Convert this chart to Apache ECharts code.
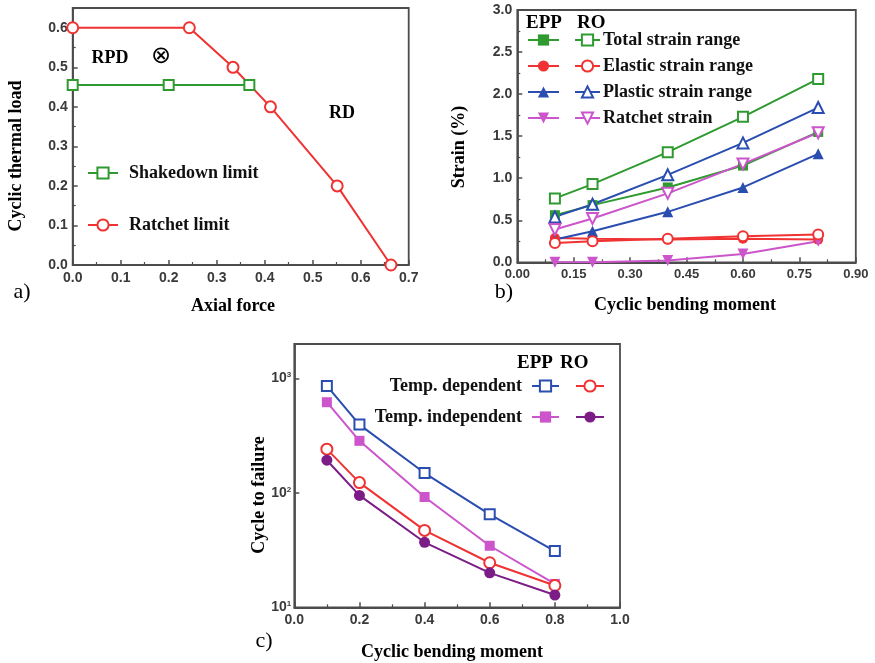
<!DOCTYPE html>
<html>
<head>
<meta charset="utf-8">
<script src="https://cdn.jsdelivr.net/npm/echarts@6/dist/echarts.min.js"></script>
<style>
  html, body { margin: 0; padding: 0; background: #fff; }
  #chart { width: 875px; height: 663px; }
</style>
</head>
<body>
<div id="chart"></div>
<script>
// ---- a) shakedown / ratchet limits ----
const axialRatchet = [0, 0.243, 0.334, 0.412, 0.551, 0.663];
const thermalRatchet = [0.6, 0.6, 0.5, 0.4, 0.2, 0.0];
const axialShakedown = [0, 0.2, 0.368];
const thermalShakedown = [0.455, 0.455, 0.455];

// ---- b) strain components vs cyclic bending moment ----
const momentB = [0.1, 0.2, 0.4, 0.6, 0.8];
const totalEPP = [0.56, 0.68, 0.89, 1.15, 1.55];
const totalRO = [0.76, 0.93, 1.31, 1.73, 2.18];
const elasticEPP = [0.29, 0.28, 0.27, 0.28, 0.27];
const elasticRO = [0.23, 0.25, 0.28, 0.31, 0.33];
const plasticEPP = [0.27, 0.37, 0.60, 0.89, 1.29];
const plasticRO = [0.54, 0.69, 1.04, 1.42, 1.84];
const ratchetEPP = [0.0, 0.0, 0.02, 0.10, 0.25];
const ratchetRO = [0.39, 0.52, 0.82, 1.17, 1.54];

// ---- c) cycles to failure ----
const momentC = [0.1, 0.2, 0.4, 0.6, 0.8];
const depEPP = [860, 395, 149, 65, 31];
const indepEPP = [620, 285, 92, 34.5, 16];
const depRO = [241, 123, 47, 24.5, 15.5];
const indepRO = [193, 95, 37, 20, 12.8];

const seriesNamesB = ['Total strain range', 'Elastic strain range', 'Plastic strain range', 'Ratchet strain'];
const limitNames = ['Shakedown limit', 'Ratchet limit'];
const tempNames = ['Temp. dependent', 'Temp. independent'];

const pairs = (xs, ys) => xs.map((x, i) => [x, ys[i]]);

const GREEN = '#2f9a2f', RED = '#f03232', BLUE = '#2a4db0', PINK = '#cc55cc', PURPLE = '#7c1c86';
const SERIF = '"Liberation Serif", "Times New Roman", serif';
const SANS = '"Liberation Sans", Arial, sans-serif';
const FRAME = '#4c4c4c';

function axisBase(extra) {
  return Object.assign({
    axisLine: { show: true, onZero: false, lineStyle: { color: FRAME, width: 1.8 } },
    axisTick: { show: true, inside: true, length: 5, lineStyle: { color: FRAME, width: 1.5 } },
    minorTick: { show: true, splitNumber: 2, length: 3, lineStyle: { color: FRAME, width: 1.2 } },
    splitLine: { show: false },
    axisLabel: { color: '#3a3a3a', fontFamily: SANS, fontWeight: 'bold', fontSize: 14, margin: 6, showMaxLabel: true }
  }, extra);
}

function line(name, data, color, symbol, opts) {
  const filled = !symbol.startsWith('empty');
  return Object.assign({
    type: 'line', name: name, data: data, symbol: symbol, symbolSize: 10,
    lineStyle: { color: color, width: 2 },
    itemStyle: { color: color, borderColor: color, borderWidth: filled ? 0 : 2 },
    emphasis: { disabled: true },
    animation: false
  }, opts);
}

const titleStyle = { fill: '#000', font: 'bold 18px ' + SERIF, textAlign: 'center', textVerticalAlign: 'middle' };
function label(text, x, y, style, rot) {
  return { type: 'text', x: x, y: y, rotation: rot || 0, style: Object.assign({ text: text }, titleStyle, style || {}) };
}

const legendText = { color: '#111', fontFamily: SERIF, fontWeight: 'bold', fontSize: 18 };
// marker-only legend columns keep a blank label so their rows share the text rows' height
const blankLabel = () => ' ';

const option = {
  backgroundColor: '#fff',
  animation: false,
  grid: [
    { left: 72.7, top: 8, width: 336, height: 257, show: true, borderColor: FRAME, borderWidth: 1.8 },
    { left: 517.3, top: 10, width: 338.5, height: 252.3, show: true, borderColor: FRAME, borderWidth: 1.8 },
    { left: 294.3, top: 344, width: 325.7, height: 263.3, show: true, borderColor: FRAME, borderWidth: 1.8 }
  ],
  xAxis: [
    axisBase({ gridIndex: 0, type: 'value', min: 0, max: 0.7, interval: 0.1,
      axisLabel: Object.assign(axisBase().axisLabel, { formatter: v => v.toFixed(1) }) }),
    axisBase({ gridIndex: 1, type: 'value', min: 0, max: 0.9, interval: 0.15,
      axisLabel: Object.assign(axisBase().axisLabel, { fontSize: 13, formatter: v => v.toFixed(2) }) }),
    axisBase({ gridIndex: 2, type: 'value', min: 0, max: 1.0, interval: 0.2,
      axisLabel: Object.assign(axisBase().axisLabel, { formatter: v => v.toFixed(1) }) })
  ],
  yAxis: [
    axisBase({ gridIndex: 0, type: 'value', min: 0, max: 0.65, interval: 0.1,
      axisLabel: Object.assign(axisBase().axisLabel, { showMaxLabel: false, margin: 5, formatter: v => v.toFixed(1) }) }),
    axisBase({ gridIndex: 1, type: 'value', min: 0, max: 3.0, interval: 0.5,
      axisLabel: Object.assign(axisBase().axisLabel, { margin: 5, formatter: v => v.toFixed(1) }) }),
    axisBase({ gridIndex: 2, type: 'log', logBase: 10, min: 10, max: 2000,
      minorTick: { show: false },
      axisLabel: Object.assign(axisBase().axisLabel, {
        showMaxLabel: false, margin: 3,
        formatter: v => '10{s|' + Math.round(Math.log10(v)) + '}',
        rich: { s: { fontSize: 8, fontFamily: SANS, fontWeight: 'bold', color: '#3a3a3a', verticalAlign: 'top', padding: [0, 0, 7, 0] } }
      }) })
  ],
  legend: [
    // a) limits
    { left: 87, top: 164, orient: 'vertical', padding: 0, itemWidth: 30, itemHeight: 14, itemGap: 34,
      data: limitNames, selectedMode: false,
      textStyle: Object.assign({}, legendText, { padding: [0, 0, 0, 6] }) },
    // b) EPP column (markers only)
    { left: 527, top: 31, orient: 'vertical', padding: 0, itemWidth: 31, itemHeight: 14, itemGap: 8,
      data: seriesNamesB.map(n => n + ' EPP'), selectedMode: false, formatter: blankLabel,
      textStyle: legendText },
    // b) RO column with names
    { left: 574, top: 31, orient: 'vertical', padding: 0, itemWidth: 25, itemHeight: 14, itemGap: 8,
      data: seriesNamesB, selectedMode: false,
      textStyle: Object.assign({}, legendText, { padding: [0, 0, 0, -2] }) },
    // c) EPP column, names on the left
    { right: 315, top: 377, orient: 'vertical', align: 'right', padding: 0, itemWidth: 27, itemHeight: 14, itemGap: 13,
      data: tempNames, selectedMode: false,
      textStyle: Object.assign({}, legendText, { padding: [0, 5, 0, 0] }) },
    // c) RO column (markers only)
    { left: 575, top: 377, orient: 'vertical', padding: 0, itemWidth: 28, itemHeight: 14, itemGap: 13,
      data: tempNames.map(n => n + ' RO'), selectedMode: false, formatter: blankLabel,
      textStyle: legendText }
  ],
  series: [
    // a)
    line('Shakedown limit', pairs(axialShakedown, thermalShakedown), GREEN, 'emptyRect', { xAxisIndex: 0, yAxisIndex: 0 }),
    line('Ratchet limit', pairs(axialRatchet, thermalRatchet), RED, 'emptyCircle', { xAxisIndex: 0, yAxisIndex: 0, symbolSize: 11 }),
    // b) EPP (filled)
    line('Total strain range EPP', pairs(momentB, totalEPP), GREEN, 'rect', { xAxisIndex: 1, yAxisIndex: 1 }),
    line('Elastic strain range EPP', pairs(momentB, elasticEPP), RED, 'circle', { xAxisIndex: 1, yAxisIndex: 1 }),
    line('Plastic strain range EPP', pairs(momentB, plasticEPP), BLUE, 'triangle', { xAxisIndex: 1, yAxisIndex: 1, symbolSize: 11 }),
    line('Ratchet strain EPP', pairs(momentB, ratchetEPP), PINK, 'triangle', { xAxisIndex: 1, yAxisIndex: 1, symbolSize: 11, symbolRotate: 180 }),
    // b) RO (open)
    line('Total strain range', pairs(momentB, totalRO), GREEN, 'emptyRect', { xAxisIndex: 1, yAxisIndex: 1 }),
    line('Elastic strain range', pairs(momentB, elasticRO), RED, 'emptyCircle', { xAxisIndex: 1, yAxisIndex: 1 }),
    line('Plastic strain range', pairs(momentB, plasticRO), BLUE, 'emptyTriangle', { xAxisIndex: 1, yAxisIndex: 1, symbolSize: 11 }),
    line('Ratchet strain', pairs(momentB, ratchetRO), PINK, 'emptyTriangle', { xAxisIndex: 1, yAxisIndex: 1, symbolSize: 11, symbolRotate: 180 }),
    // c)
    line('Temp. dependent', pairs(momentC, depEPP), BLUE, 'emptyRect', { xAxisIndex: 2, yAxisIndex: 2 }),
    line('Temp. independent', pairs(momentC, indepEPP), PINK, 'rect', { xAxisIndex: 2, yAxisIndex: 2 }),
    line('Temp. dependent RO', pairs(momentC, depRO), RED, 'emptyCircle', { xAxisIndex: 2, yAxisIndex: 2, symbolSize: 11 }),
    line('Temp. independent RO', pairs(momentC, indepRO), PURPLE, 'circle', { xAxisIndex: 2, yAxisIndex: 2, symbolSize: 11 })
  ],
  graphic: [
    // panel a
    label('Cyclic thermal load', 16, 156, null, Math.PI / 2),
    label('Axial force', 233, 306),
    label('a)', 22, 292, { font: '22px ' + SERIF }),
    label('RPD', 110, 58),
    label('\u2297', 161, 57, { font: '24px "DejaVu Sans", sans-serif' }),
    label('RD', 342, 113),
    // panel b
    label('Strain (%)', 459, 147, null, Math.PI / 2),
    label('Cyclic bending moment', 685, 305),
    label('b)', 504, 292, { font: '22px ' + SERIF }),
    label('EPP', 526, 23, { textAlign: 'left', font: 'bold 19px ' + SERIF }),
    label('RO', 577, 23, { textAlign: 'left', font: 'bold 19px ' + SERIF }),
    // panel c
    label('Cycle to failure', 259, 495, null, Math.PI / 2),
    label('Cyclic bending moment', 452, 652),
    label('c)', 264, 641, { font: '22px ' + SERIF }),
    label('EPP', 517, 363, { textAlign: 'left', font: 'bold 19px ' + SERIF }),
    label('RO', 560, 363, { textAlign: 'left', font: 'bold 19px ' + SERIF })
  ]
};

const chart = echarts.init(document.getElementById('chart'), null, { renderer: 'canvas' });
chart.setOption(option);
</script>
</body>
</html>
